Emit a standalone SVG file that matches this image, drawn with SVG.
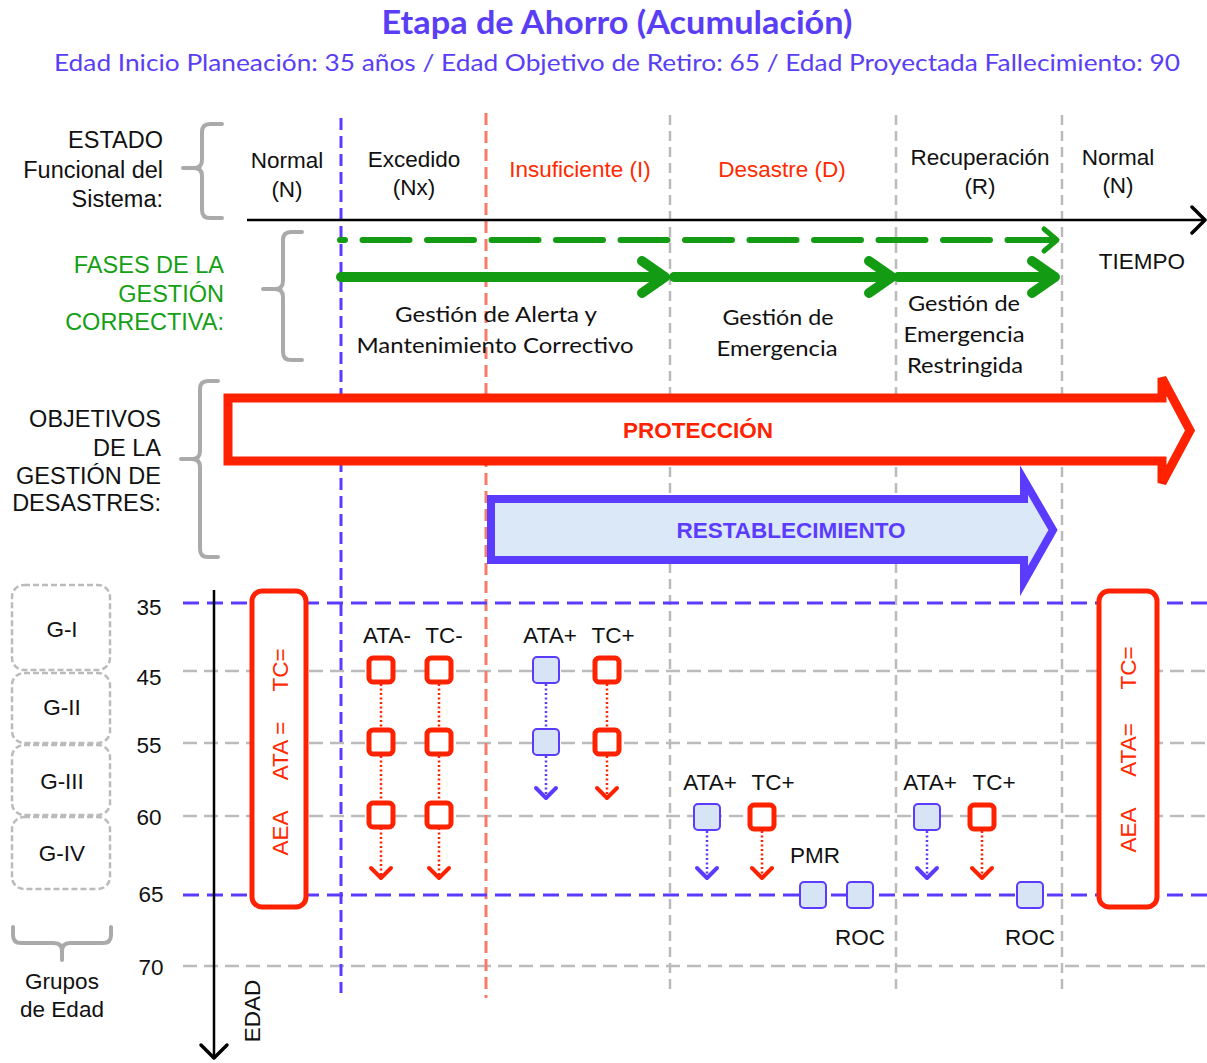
<svg xmlns="http://www.w3.org/2000/svg" width="1207" height="1063" viewBox="0 0 1207 1063">
<defs>
<style>
.t{font-family:"Liberation Sans",Arial,sans-serif;font-size:22.5px;fill:#111}
.lb{font-size:23.5px}
.tm{text-anchor:middle}
.te{text-anchor:end}
.c{font-family:Lato,"Open Sans",sans-serif;font-size:21px;fill:#111;text-anchor:middle}
.red{fill:#ff2a00}
.grn{fill:#159f15}
.brace{fill:none;stroke:#aaa;stroke-width:4;stroke-linejoin:round;stroke-linecap:round}
.gh{stroke:#bbb;stroke-width:2.5;stroke-dasharray:14 7;fill:none}
.bh{stroke:#5b3cff;stroke-width:3;stroke-dasharray:16 8;fill:none}
.gv{stroke:#bbb;stroke-width:2.5;stroke-dasharray:10 6;fill:none}
.grp{fill:#fff;stroke:#bbb;stroke-width:2.5;stroke-dasharray:6 3}
.rsq{fill:#fff;stroke:#ff2200;stroke-width:5}
.bsq{fill:#d6e4f6;stroke:#5b3cff;stroke-width:2}
.rdot{stroke:#ff2200;stroke-width:2.5;stroke-dasharray:2 2.5;fill:none}
.bdot{stroke:#5b3cff;stroke-width:2.5;stroke-dasharray:2 2.5;fill:none}
.rchev{fill:none;stroke:#ff2200;stroke-width:4;stroke-linecap:round;stroke-linejoin:round}
.bchev{fill:none;stroke:#5b3cff;stroke-width:4;stroke-linecap:round;stroke-linejoin:round}
.gline{stroke:#139b13;fill:none;stroke-linecap:round;stroke-linejoin:round}
.aea{fill:#fff;stroke:#ff2200;stroke-width:5}
.rv{font-family:"Liberation Sans",Arial,sans-serif;font-size:22.5px;fill:#ff2a00;text-anchor:middle}
</style>
</defs>
<rect x="0" y="0" width="1207" height="1063" fill="#fff"/>

<g id="title">
<text x="617" y="34" font-family="Lato,'Open Sans',sans-serif" font-weight="bold" font-size="32" fill="#5a3ef5" text-anchor="middle" textLength="471" lengthAdjust="spacingAndGlyphs">Etapa de Ahorro (Acumulación)</text>
<text x="617" y="71" font-family="Lato,'Open Sans',sans-serif" font-size="24" fill="#5a3ef5" text-anchor="middle" textLength="1126" lengthAdjust="spacingAndGlyphs">Edad Inicio Planeación: 35 años / Edad Objetivo de Retiro: 65 / Edad Proyectada Fallecimiento: 90</text>
</g>

<g id="grid">
<line class="gh" x1="183" y1="671" x2="1207" y2="671"/>
<line class="gh" x1="183" y1="743" x2="1207" y2="743"/>
<line class="gh" x1="183" y1="816" x2="1207" y2="816"/>
<line class="gh" x1="183" y1="966" x2="1207" y2="966"/>
<line class="gv" x1="670" y1="115" x2="670" y2="995"/>
<line class="gv" x1="896" y1="115" x2="896" y2="995"/>
<line class="gv" x1="1062" y1="115" x2="1062" y2="995"/>
<line x1="486" y1="113" x2="486" y2="998" stroke="#f87a6a" stroke-width="3" stroke-dasharray="12 6"/>
<line x1="341" y1="118" x2="341" y2="993" stroke="#5b3cff" stroke-width="3" stroke-dasharray="12 6"/>
<line class="bh" x1="183" y1="603" x2="1207" y2="603"/>
<line class="bh" x1="183" y1="895" x2="1207" y2="895"/>
</g>

<g id="time-axis">
<line x1="247" y1="220" x2="1203" y2="220" stroke="#000" stroke-width="2.5"/>
<polyline points="1192,207 1205,220 1192,233" fill="none" stroke="#000" stroke-width="3.5" stroke-linecap="round" stroke-linejoin="round"/>
<text class="t tm" x="1142" y="269">TIEMPO</text>
</g>

<g id="age-axis">
<line x1="214" y1="590" x2="214" y2="1057" stroke="#000" stroke-width="2.5"/>
<polyline points="201,1045 214,1058 227,1045" fill="none" stroke="#000" stroke-width="3.5" stroke-linecap="round" stroke-linejoin="round"/>
<text class="t tm" font-size="21" transform="translate(252,1011) rotate(-90)" dy="0.36em">EDAD</text>
<text class="t tm" x="149" y="615">35</text>
<text class="t tm" x="149" y="685">45</text>
<text class="t tm" x="149" y="753">55</text>
<text class="t tm" x="149" y="825">60</text>
<text class="t tm" x="151" y="902">65</text>
<text class="t tm" x="151" y="975">70</text>
</g>

<g id="state-labels">
<path class="brace" d="M222,124 L210,124 Q202,124 202,132 L202,160 Q202,168 194,168 L183,168 L194,168 Q202,168 202,176 L202,210 Q202,218 210,218 L222,218"/>
<text class="t lb te" x="163" y="148">ESTADO</text>
<text class="t lb te" x="163" y="178">Funcional del</text>
<text class="t lb te" x="163" y="207">Sistema:</text>
<text class="t tm" x="287" y="168">Normal</text>
<text class="t tm" x="287" y="197">(N)</text>
<text class="t tm" x="414" y="167">Excedido</text>
<text class="t tm" x="414" y="195">(Nx)</text>
<text class="t tm red" x="580" y="177">Insuficiente (I)</text>
<text class="t tm red" x="782" y="177">Desastre (D)</text>
<text class="t tm" x="980" y="165">Recuperación</text>
<text class="t tm" x="980" y="194">(R)</text>
<text class="t tm" x="1118" y="165">Normal</text>
<text class="t tm" x="1118" y="193">(N)</text>
</g>

<g id="fases">
<path class="brace" d="M302,232 L291,232 Q283,232 283,240 L283,281 Q283,289 275,289 L263,289 L275,289 Q283,289 283,297 L283,352 Q283,360 291,360 L302,360"/>
<text class="t lb te grn" x="224" y="273">FASES DE LA</text>
<text class="t lb te grn" x="224" y="302">GESTIÓN</text>
<text class="t lb te grn" x="224" y="330">CORRECTIVA:</text>
</g>

<g id="fase-arrows">
<line class="gline" x1="340" y1="240" x2="1055" y2="240" stroke-width="6" stroke-linecap="butt" stroke-dasharray="47 17.5" stroke-dashoffset="42"/>
<polyline class="gline" points="1044,229 1057,240 1044,251" stroke-width="5"/>
<line class="gline" x1="341" y1="277" x2="664" y2="277" stroke-width="10" stroke-linecap="butt"/>
<polyline class="gline" points="642,261 665,277 642,293" stroke-width="10"/>
<line class="gline" x1="674" y1="277" x2="890" y2="277" stroke-width="10" stroke-linecap="butt"/>
<polyline class="gline" points="869,261 892,277 869,293" stroke-width="10"/>
<line class="gline" x1="898" y1="277" x2="1054" y2="277" stroke-width="10" stroke-linecap="butt"/>
<polyline class="gline" points="1032,261 1055,277 1032,293" stroke-width="10"/>
<text class="c" x="496" y="322" textLength="202" lengthAdjust="spacingAndGlyphs">Gestión de Alerta y</text>
<text class="c" x="495" y="353" textLength="277" lengthAdjust="spacingAndGlyphs">Mantenimiento Correctivo</text>
<text class="c" x="778" y="325" textLength="111" lengthAdjust="spacingAndGlyphs">Gestión de</text>
<text class="c" x="777" y="356" textLength="121" lengthAdjust="spacingAndGlyphs">Emergencia</text>
<text class="c" x="964" y="311" textLength="112" lengthAdjust="spacingAndGlyphs">Gestión de</text>
<text class="c" x="964" y="342" textLength="121" lengthAdjust="spacingAndGlyphs">Emergencia</text>
<text class="c" x="965" y="373" textLength="116" lengthAdjust="spacingAndGlyphs">Restringida</text>
</g>

<g id="objetivos">
<path class="brace" d="M218,381 L208,381 Q200,381 200,389 L200,451 Q200,459 192,459 L181,459 L192,459 Q200,459 200,467 L200,549 Q200,557 208,557 L218,557"/>
<text class="t lb te" x="161" y="427">OBJETIVOS</text>
<text class="t lb te" x="161" y="456">DE LA</text>
<text class="t lb te" x="161" y="484">GESTIÓN DE</text>
<text class="t lb te" x="161" y="511">DESASTRES:</text>
</g>

<g id="proteccion">
<polygon points="228,398 1162,398 1162,378 1190,430.5 1162,483 1162,461 228,461" fill="#fff" stroke="#ff2200" stroke-width="9"/>
<text x="698" y="438" font-family="'Liberation Sans',Arial,sans-serif" font-weight="bold" font-size="22.5" fill="#ff2200" text-anchor="middle">PROTECCIÓN</text>
</g>

<g id="restablecimiento">
<polygon points="491,499 1024,499 1024,480 1053,530 1024,581 1024,560 491,560" fill="#dbe8f8" stroke="#5b3cff" stroke-width="8"/>
<text x="791" y="538" font-family="'Liberation Sans',Arial,sans-serif" font-weight="bold" font-size="22.5" fill="#5b3cff" text-anchor="middle">RESTABLECIMIENTO</text>
</g>

<g id="grupos-edad">
<rect class="grp" x="12" y="585" width="98" height="85" rx="12"/>
<rect class="grp" x="12" y="673" width="98" height="70" rx="12"/>
<rect class="grp" x="12" y="745" width="98" height="70" rx="12"/>
<rect class="grp" x="12" y="817" width="98" height="72" rx="12"/>
<text class="t tm" x="62" y="637">G-I</text>
<text class="t tm" x="62" y="715">G-II</text>
<text class="t tm" x="62" y="789">G-III</text>
<text class="t tm" x="62" y="861">G-IV</text>
<path class="brace" d="M13,927 L13,935 Q13,943 21,943 L54,943 Q62,943 62,951 L62,960 L62,951 Q62,943 70,943 L103,943 Q111,943 111,935 L111,927"/>
<text class="t tm" x="62" y="989">Grupos</text>
<text class="t tm" x="62" y="1017">de Edad</text>
</g>

<g id="aea-left">
<rect class="aea" x="252" y="591" width="54" height="316" rx="10"/>
<text class="rv" transform="translate(280,833) rotate(-90)" dy="0.36em">AEA</text>
<text class="rv" transform="translate(280,751) rotate(-90)" dy="0.36em">ATA =</text>
<text class="rv" transform="translate(280,670) rotate(-90)" dy="0.36em">TC=</text>
</g>

<g id="aea-right">
<rect class="aea" x="1099" y="591" width="58" height="316" rx="10"/>
<text class="rv" transform="translate(1128,830) rotate(-90)" dy="0.36em">AEA</text>
<text class="rv" transform="translate(1128,750) rotate(-90)" dy="0.36em">ATA=</text>
<text class="rv" transform="translate(1128,668) rotate(-90)" dy="0.36em">TC=</text>
</g>

<g id="connectors">
<line class="rdot" x1="381" y1="684" x2="381" y2="877"/>
<polyline class="rchev" points="371,868 381,878 391,868"/>
<line class="rdot" x1="439" y1="684" x2="439" y2="877"/>
<polyline class="rchev" points="429,868 439,878 449,868"/>
<line class="bdot" x1="546" y1="684" x2="546" y2="797"/>
<polyline class="bchev" points="536,788 546,798 556,788"/>
<line class="rdot" x1="607" y1="684" x2="607" y2="797"/>
<polyline class="rchev" points="597,788 607,798 617,788"/>
<line class="bdot" x1="707" y1="831" x2="707" y2="877"/>
<polyline class="bchev" points="697,868 707,878 717,868"/>
<line class="rdot" x1="762" y1="831" x2="762" y2="877"/>
<polyline class="rchev" points="752,868 762,878 772,868"/>
<line class="bdot" x1="927" y1="831" x2="927" y2="877"/>
<polyline class="bchev" points="917,868 927,878 937,868"/>
<line class="rdot" x1="982" y1="831" x2="982" y2="877"/>
<polyline class="rchev" points="972,868 982,878 992,868"/>
</g>

<g id="ata-minus">
<text class="t tm" x="387" y="643">ATA-</text>
<rect class="rsq" x="369" y="658" width="24" height="24" rx="4"/>
<rect class="rsq" x="369" y="730" width="24" height="24" rx="4"/>
<rect class="rsq" x="369" y="803" width="24" height="24" rx="4"/>
</g>
<g id="tc-minus">
<text class="t tm" x="444" y="643">TC-</text>
<rect class="rsq" x="427" y="658" width="24" height="24" rx="4"/>
<rect class="rsq" x="427" y="730" width="24" height="24" rx="4"/>
<rect class="rsq" x="427" y="803" width="24" height="24" rx="4"/>
</g>
<g id="ata-plus-1">
<text class="t tm" x="550" y="643">ATA+</text>
<rect class="bsq" x="533" y="657" width="26" height="26" rx="4"/>
<rect class="bsq" x="533" y="729" width="26" height="26" rx="4"/>
</g>
<g id="tc-plus-1">
<text class="t tm" x="613" y="643">TC+</text>
<rect class="rsq" x="595" y="658" width="24" height="24" rx="4"/>
<rect class="rsq" x="595" y="730" width="24" height="24" rx="4"/>
</g>
<g id="ata-plus-2">
<text class="t tm" x="710" y="790">ATA+</text>
<rect class="bsq" x="694" y="804" width="26" height="26" rx="4"/>
</g>
<g id="tc-plus-2">
<text class="t tm" x="773" y="790">TC+</text>
<rect class="rsq" x="750" y="805" width="24" height="24" rx="4"/>
</g>
<g id="pmr">
<text class="t tm" x="815" y="863">PMR</text>
<rect class="bsq" x="800" y="882" width="26" height="26" rx="4"/>
<rect class="bsq" x="847" y="882" width="26" height="26" rx="4"/>
<text class="t tm" x="860" y="945">ROC</text>
</g>
<g id="ata-plus-3">
<text class="t tm" x="930" y="790">ATA+</text>
<rect class="bsq" x="914" y="804" width="26" height="26" rx="4"/>
</g>
<g id="tc-plus-3">
<text class="t tm" x="994" y="790">TC+</text>
<rect class="rsq" x="970" y="805" width="24" height="24" rx="4"/>
</g>
<g id="roc">
<rect class="bsq" x="1017" y="882" width="26" height="26" rx="4"/>
<text class="t tm" x="1030" y="945">ROC</text>
</g>
</svg>
